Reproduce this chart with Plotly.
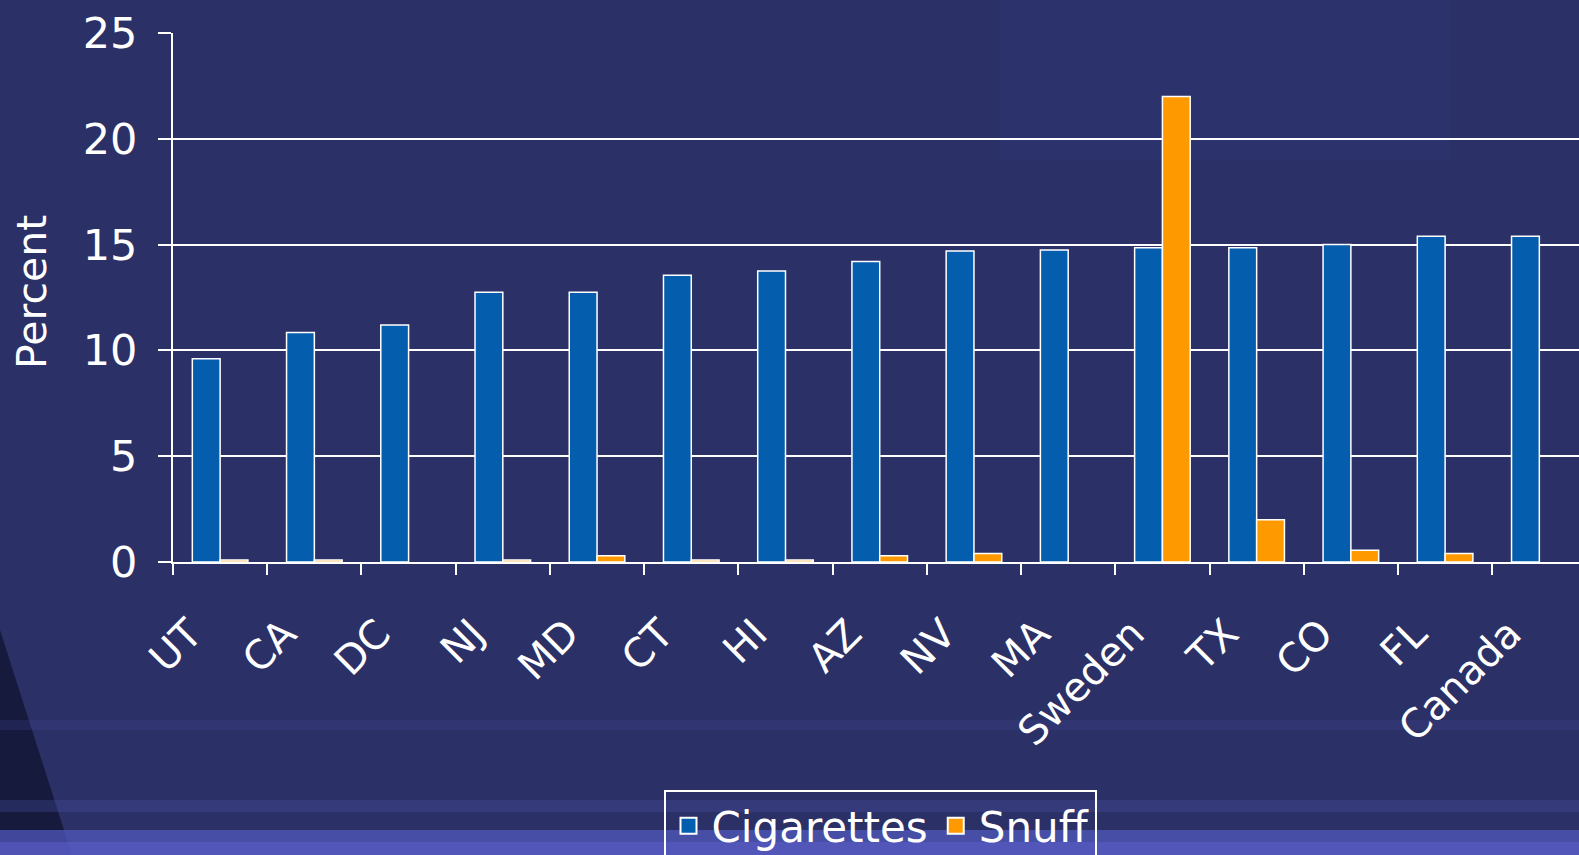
import plotly.graph_objects as go

# ---- data ----
categories = ["UT", "CA", "DC", "NJ", "MD", "CT", "HI", "AZ", "NV", "MA",
              "Sweden", "TX", "CO", "FL", "Canada"]
cigarettes = [9.6, 10.85, 11.2, 12.75, 12.75, 13.55, 13.75, 14.2, 14.7, 14.75,
              14.85, 14.85, 15.0, 15.4, 15.4]
snuff = [0.1, 0.1, None, 0.1, 0.3, 0.1, 0.1, 0.3, 0.4, None,
         22.0, 2.0, 0.55, 0.4, None]
y_ticks = [0, 5, 10, 15, 20, 25]

W, H = 1579, 855
L, R_EDGE, T, B = 173, 1579, 33, 562
PW, PH = R_EDGE - L, B - T


def px_x(x):
    return (x - L) / PW


def px_y(y):
    return (B - y) / PH


FONT = "DejaVu Sans"
BG = "#2B3066"
BLUE = "#045DAD"
ORANGE = "#FF9900"

fig = go.Figure()
fig.add_trace(go.Bar(
    x=categories, y=cigarettes, name="Cigarettes", showlegend=False,
    marker=dict(color=BLUE, line=dict(color="white", width=1.5)),
))
fig.add_trace(go.Bar(
    x=categories, y=snuff, name="Snuff", showlegend=False,
    marker=dict(color=ORANGE, line=dict(color="white", width=1.5)),
))
# legend entries with larger square swatches
for nm, col in [("Cigarettes", BLUE), ("Snuff", ORANGE)]:
    fig.add_trace(go.Scatter(
        x=[None], y=[None], mode="markers", name=nm, hoverinfo="skip",
        marker=dict(symbol="square", size=16, color=col, line=dict(color="white", width=2)),
    ))

shapes = []
# dark wedge bottom-left
shapes.append(dict(type="path", xref="paper", yref="paper", layer="below",
                   path=f"M {px_x(0)} {px_y(630)} L {px_x(72)} {px_y(855)} L {px_x(0)} {px_y(855)} Z",
                   fillcolor="#161A3C", line=dict(width=0)))
# subtle lighter area top right
shapes.append(dict(type="rect", xref="paper", yref="paper", layer="below",
                   x0=px_x(1000), x1=px_x(1450), y0=px_y(160), y1=px_y(0),
                   fillcolor="#3A42A0", opacity=0.10, line=dict(width=0)))
# horizontal light stripes near bottom
for (y0, y1, col, op) in [(720, 730, "#4A52A8", 0.2),
                          (800, 812, "#4A52A8", 0.3),
                          (830, 855, "#5058BC", 0.75),
                          (842, 855, "#5A5CC4", 0.6)]:
    shapes.append(dict(type="rect", xref="paper", yref="paper", layer="below",
                       x0=px_x(0), x1=px_x(W), y0=px_y(y1), y1=px_y(y0),
                       fillcolor=col, opacity=op, line=dict(width=0)))

fig.update_layout(
    width=W, height=H,
    margin=dict(l=L, r=0, t=T, b=H - B, autoexpand=False),
    paper_bgcolor=BG, plot_bgcolor="rgba(0,0,0,0)",
    barmode="group", bargap=0.41, bargroupgap=0,
    font=dict(family=FONT, color="white", size=40),
    showlegend=True,
    legend=dict(orientation="h", x=px_x(880), xanchor="center", y=px_y(790), yanchor="top",
                bordercolor="white", borderwidth=2, bgcolor="rgba(0,0,0,0)",
                font=dict(family=FONT, size=42, color="white"),
                itemsizing="trace", traceorder="normal", itemwidth=36),
    xaxis=dict(
        range=[-0.5, -0.5 + PW / 94.23], tickangle=-45,
        ticks="outside", ticklen=11, tickwidth=2, tickcolor="white",
        tickson="boundaries", showline=True, linecolor="white", linewidth=2,
        showgrid=False, tickfont=dict(family=FONT, size=40, color="white"),
        ticklabelstandoff=30, ticklabelshift=-30,
        fixedrange=True,
    ),
    yaxis=dict(
        range=[0, 25], tickvals=y_ticks, ticks="outside", ticklen=13, tickwidth=2,
        tickcolor="white", showline=True, linecolor="white", linewidth=2,
        showgrid=True, gridcolor="white", gridwidth=2, zeroline=False,
        tickfont=dict(family=FONT, size=43, color="white"),
        ticklabelstandoff=12, fixedrange=True,
    ),
    annotations=[dict(text="Percent", textangle=-90, xref="paper", yref="paper",
                      x=px_x(32), y=px_y(292), xanchor="center", yanchor="middle",
                      showarrow=False, font=dict(family=FONT, size=41, color="white"))],
    shapes=shapes,
)

fig.write_html("out.html", config={"displayModeBar": False},
               post_script="document.body.style.margin='0px';")
